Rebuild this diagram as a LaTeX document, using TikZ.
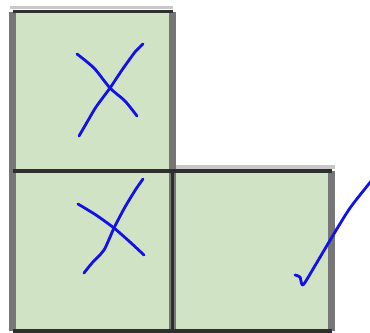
\documentclass[tikz,border=0pt]{standalone}
\usepackage{tikz}
\usetikzlibrary{calc}
\definecolor{cellgreen}{HTML}{D0E4C5}
\definecolor{edgegrey}{HTML}{767676}
\definecolor{edgelight}{HTML}{C8C8C8}
\definecolor{edgedark}{HTML}{2F2F2F}
\definecolor{penblue}{HTML}{1212E8}
\tikzset{
  cell/.style={fill=cellgreen},
  sideedge/.style={edgegrey,line width=5.5pt},
  flatedge/.style={edgedark,line width=2.8pt},
  shadeedge/.style={edgelight,line width=3pt},
  pen/.style={penblue,line width=2.4pt,line cap=round,line join=round}
}
\begin{document}
\begin{tikzpicture}[x=0.03cm,y=-0.03cm]
  \useasboundingbox (0,0) rectangle (370,332);
  \coordinate (A) at (12.5,11.5);
  \coordinate (B) at (172.5,11.5);
  \coordinate (C) at (12.5,171);
  \coordinate (D) at (172.5,171);
  \coordinate (E) at (331.5,171);
  \coordinate (F) at (12.5,331);
  \coordinate (G) at (172.5,331);
  \coordinate (H) at (331.5,331);
  % マス
  \fill[cell] (A) rectangle (D) (C) rectangle (H);
  % 縦の線
  \draw[shadeedge] ($(A)+(-3,-4)$) -- ($(B)+(0,-4)$);
  \draw[shadeedge] ($(D)+(3,-4)$) -- ($(E)+(3,-4)$);
  \draw[sideedge] (A) -- (F) (B) -- (D) (D) -- (G) (E) -- (H);
  \draw[edgedark,line width=2.8pt] (D) -- (G);
  % 横の線
  \draw[flatedge] (A) -- (B) (C) -- (E) (F) -- (H);
  % 印
  \draw[pen] plot[smooth,tension=0.4] coordinates {(77,54) (94,68) (110,88) (125,101) (137,116)};
  \draw[pen] plot[smooth,tension=0.4] coordinates {(143,44) (135,52) (122,70) (110,88) (96,107) (86,124) (79,136)};
  \draw[pen] plot[smooth,tension=0.4] coordinates {(78,204) (96,215) (114,228) (130,242) (144,255)};
  \draw[pen] plot[smooth,tension=0.4] coordinates {(143,179) (136,189) (125,207) (114,228) (104,250) (92,263) (84,273)};
  \draw[pen] plot[smooth,tension=0.4] coordinates {(295,275) (300,277) (303,285) (316,264) (332,237) (350,208) (372,180)};
\end{tikzpicture}
\end{document}
